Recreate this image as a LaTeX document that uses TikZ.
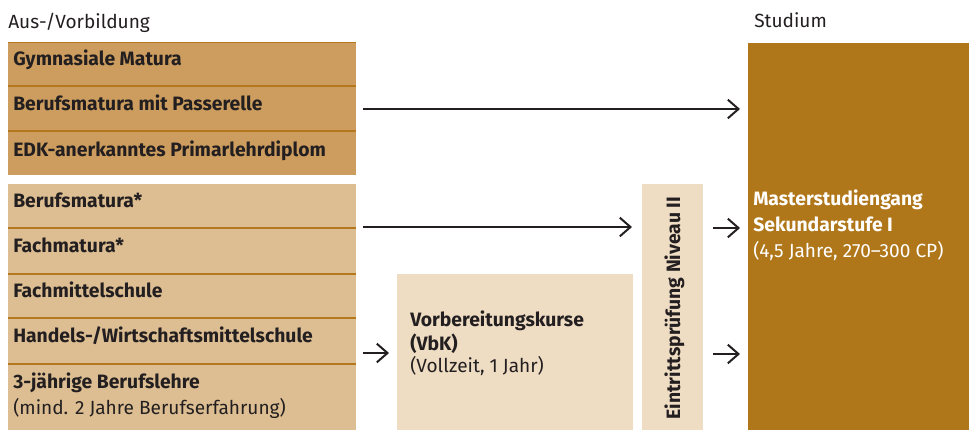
\documentclass[tikz,border=0pt]{standalone}
\usepackage{fontspec}
\setmainfont{Fira Sans}
\usetikzlibrary{arrows.meta}
\definecolor{cA}{HTML}{CC9D5E}
\definecolor{cB}{HTML}{DDBE92}
\definecolor{cC}{HTML}{EEDCC3}
\definecolor{cM}{HTML}{B0771A}
\definecolor{cL}{HTML}{B5781E}
\definecolor{ink}{HTML}{231F20}
\tikzset{
  txt/.style={anchor=base west, inner sep=0pt, font=\fontsize{14.3}{16}\selectfont, text=ink},
  btxt/.style={txt, font=\fontsize{14.5}{16}\selectfont\bfseries},
  sep/.style={draw=cL, line width=2.2pt},
  arr/.style={draw=ink, line width=1.5pt, -{Straight Barb[length=8pt, width=14pt, line width=1.5pt]}}
}
\begin{document}
\begin{tikzpicture}[x=0.75pt, y=-0.75pt]
\useasboundingbox (0,0) rectangle (969,430);
% headers
\node[txt] (hl) at (8,28) {Aus-/Vorbildung};
\node[txt] (hr) at (754,27) {Studium};
% top group
\fill[cA] (8,42) rectangle (356,175);
\draw[draw=cL, line width=0.8pt] (8,42.5) -- (356,42.5);
\draw[sep] (8,86) -- (356,86);
\draw[sep] (8,131) -- (356,131);
\node[btxt] (g1) at (13,65) {Gymnasiale Matura};
\node[btxt] (g2) at (13,110) {Berufsmatura mit Passerelle};
\node[btxt] (g3) at (13,156) {EDK-anerkanntes Primarlehrdiplom};
% bottom group
\fill[cB] (8,184) rectangle (356,430);
\draw[sep] (8,228) -- (356,228);
\draw[sep] (8,274) -- (356,274);
\draw[sep] (8,318) -- (356,318);
\draw[sep] (8,364) -- (356,364);
\node[btxt] (b1) at (13,207) {Berufsmatura*};
\node[btxt] (b2) at (13,252) {Fachmatura*};
\node[btxt] (b3) at (13,297) {Fachmittelschule};
\node[btxt] (b4) at (13,342) {Handels-/Wirtschaftsmittelschule};
\node[btxt] (b5) at (13,388) {3-jährige Berufslehre};
\node[txt] (b6) at (13,414) {(mind. 2 Jahre Berufserfahrung)};
% VbK
\fill[cC] (397,274) rectangle (633,430);
\node[btxt] (v1) at (410,326) {Vorbereitungskurse};
\node[btxt] (v2) at (410,350) {(VbK)};
\node[txt] (v3) at (410,372) {(Vollzeit, 1 Jahr)};
% Eintritt
\fill[cC] (642,184) rectangle (703,430);
\node[btxt, anchor=base, rotate=90] (ep) at (680,308) {Eintrittsprüfung Niveau II};
% Master
\fill[cM] (748,43) rectangle (969,430);
\node[btxt, text=white] (m1) at (753,205) {Masterstudiengang};
\node[btxt, text=white] (m2) at (753,231) {Sekundarstufe I};
\node[txt, text=white] (m3) at (753,257) {(4,5 Jahre, 270–300 CP)};
% arrows
\coordinate (a1s) at (363,109); \coordinate (a1e) at (740,109);
\coordinate (a2s) at (363,227); \coordinate (a2e) at (632,227);
\coordinate (a3s) at (363,353); \coordinate (a3e) at (389,353);
\coordinate (a4s) at (713,228); \coordinate (a4e) at (740,228);
\coordinate (a5s) at (713,354); \coordinate (a5e) at (740,354);
\draw[arr] (a1s) -- (a1e);
\draw[arr] (a2s) -- (a2e);
\draw[arr] (a3s) -- (a3e);
\draw[arr] (a4s) -- (a4e);
\draw[arr] (a5s) -- (a5e);
\end{tikzpicture}
\end{document}
